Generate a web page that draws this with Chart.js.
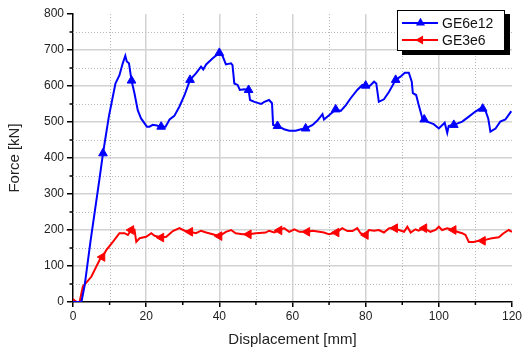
<!DOCTYPE html>
<html>
<head>
<meta charset="utf-8">
<script src="https://cdn.jsdelivr.net/npm/chart.js@4/dist/chart.umd.min.js"></script>
<style>
  html, body { margin: 0; padding: 0; background: #fff; }
  #wrap { width: 524px; height: 352px; }
</style>
</head>
<body>
<div id="wrap"><canvas id="c" width="524" height="352"></canvas></div>
<script>
// Force–displacement records of the two crush tests
const seriesNames = ['GE6e12', 'GE3e6'];

const dispBlue = [0, 2.3, 3.2, 4.8, 7.2, 8.2, 9.8, 11.6, 12.7, 13.6, 14.3, 14.7, 15.3, 16.0, 16.8, 17.7, 18.6,
  20.2, 20.9, 21.8, 22.9, 24.1, 25.3, 26.4, 27.7, 29.1, 30.5, 32.0, 33.6, 35.0, 35.6, 36.4, 38.2, 40.0, 40.9,
  41.8, 43.2, 43.6, 44.1, 45.0, 45.6, 46.8, 48.0, 48.4, 49.6, 51.4, 52.3, 53.6, 54.4, 54.7, 55.9, 57.7, 59.1,
  60.9, 62.3, 63.6, 65.5, 66.8, 68.2, 68.6, 70.0, 71.8, 73.2, 74.6, 75.9, 77.7, 79.1, 80.0, 80.9, 82.3, 82.9,
  83.6, 85.0, 86.4, 88.2, 89.5, 90.7, 91.8, 92.6, 92.9, 93.8, 94.5, 95.5, 96.0, 96.8, 98.6, 100.0, 101.6,
  102.3, 102.7, 104.1, 106.4, 108.2, 110.0, 111.4, 112.0, 112.7, 113.5, 114.1, 115.5, 116.8, 118.2, 119.8];
const forceBlue = [0, 0, 47, 170, 339, 413, 515, 607, 630, 663, 684, 668, 663, 615, 580, 533, 510,
  487, 487, 492, 490, 487, 487, 507, 517, 543, 575, 617, 635, 654, 646, 660, 677, 692, 683,
  660, 663, 658, 607, 603, 589, 591, 589, 561, 556, 550, 556, 561, 552, 492, 489, 480, 476,
  476, 480, 482, 492, 504, 522, 507, 519, 535, 531, 547, 566, 589, 603, 601, 598, 612, 607,
  556, 563, 584, 617, 626, 637, 637, 612, 580, 575, 547, 510, 507, 501, 494, 482, 498,
  470, 489, 492, 501, 515, 529, 538, 537, 533, 510, 473, 482, 501, 507, 530];

const dispRed = [0, 0.6, 1.0, 1.8, 2.7, 5.0, 7.3, 8.0, 9.1, 10.9, 12.7, 14.1, 15.0, 15.9, 16.8, 17.3, 18.2,
  20.0, 21.4, 22.3, 24.1, 25.5, 27.3, 29.1, 30.5, 32.0, 33.6, 35.0, 36.4, 38.2, 40.0, 41.8, 43.2, 44.5,
  46.4, 48.0, 50.0, 52.7, 53.6, 55.0, 56.4, 57.7, 59.1, 60.5, 61.9, 64.0, 65.5, 67.3, 68.6, 70.0, 72.0,
  73.6, 75.0, 76.4, 77.7, 78.6, 80.0, 80.9, 82.3, 83.6, 85.0, 86.4, 88.0, 89.1, 90.5, 91.4, 92.3, 93.6,
  94.5, 96.0, 97.7, 99.1, 100.0, 100.9, 102.3, 104.0, 105.0, 106.4, 107.3, 108.2, 109.5, 110.9, 112.0,
  113.2, 114.5, 116.4, 117.7, 119.1, 120.0];
const forceRed = [8, 3, 0, 0, 43, 70, 117, 125, 144, 167, 191, 191, 186, 200, 201, 167, 177,
  181, 191, 184, 179, 181, 197, 205, 198, 195, 191, 198, 193, 188, 183, 195, 200, 191,
  188, 188, 191, 193, 198, 193, 199, 205, 195, 202, 195, 195, 198, 195, 193, 188, 193,
  205, 197, 197, 205, 191, 186, 200, 198, 200, 193, 205, 205, 200, 195, 209, 193, 202,
  198, 205, 195, 200, 209, 200, 205, 200, 195, 191, 186, 167, 167, 170, 170,
  174, 177, 180, 191, 200, 195];

const xTickValues = [0, 20, 40, 60, 80, 100, 120];
const yTickValues = [0, 100, 200, 300, 400, 500, 600, 700, 800];
const xMinorTicks = [10, 30, 50, 70, 90, 110];
const yMinorTicks = [50, 150, 250, 350, 450, 550, 650, 750];
const markerSpacing = 8; // mm between symbols on each curve

const FONT = "'Liberation Sans', Arial, sans-serif";
const BLUE = '#0000ff';
const RED = '#ff0000';

function toPoints(xs, ys) { return xs.map((x, i) => ({ x: x, y: ys[i] })); }

// symbol radii: one symbol on the sample nearest to each multiple of the spacing
function markerRadii(xs, r) {
  const radii = xs.map(() => 0);
  for (let t = markerSpacing; t < xs[xs.length - 1]; t += markerSpacing) {
    let best = 0;
    xs.forEach((x, i) => { if (Math.abs(x - t) < Math.abs(xs[best] - t)) best = i; });
    radii[best] = r;
  }
  return radii;
}

function triangle(ctx, cx, cy, r, rotDeg) {
  let a = rotDeg * Math.PI / 180;
  ctx.beginPath();
  for (let k = 0; k < 3; k++) {
    ctx.lineTo(cx + Math.sin(a) * r, cy - Math.cos(a) * r);
    a += 2 * Math.PI / 3;
  }
  ctx.closePath();
  ctx.fill();
}

// dotted minor grid plus short minor tick marks
const minorGrid = {
  id: 'minorGrid',
  beforeDatasetsDraw(chart) {
    const { ctx, chartArea: a, scales: { x, y } } = chart;
    ctx.save();
    ctx.strokeStyle = '#b8b8b8';
    ctx.lineWidth = 1;
    ctx.setLineDash([1, 2]);
    xMinorTicks.forEach(v => {
      const px = Math.round(x.getPixelForValue(v)) + 0.5;
      ctx.beginPath(); ctx.moveTo(px, a.top); ctx.lineTo(px, a.bottom); ctx.stroke();
    });
    yMinorTicks.forEach(v => {
      const py = Math.round(y.getPixelForValue(v)) + 0.5;
      ctx.beginPath(); ctx.moveTo(a.left, py); ctx.lineTo(a.right, py); ctx.stroke();
    });
    ctx.setLineDash([]);
    ctx.strokeStyle = '#000';
    ctx.lineWidth = 1.5;
    xMinorTicks.forEach(v => {
      const px = x.getPixelForValue(v);
      ctx.beginPath(); ctx.moveTo(px, a.bottom); ctx.lineTo(px, a.bottom + 3); ctx.stroke();
    });
    yMinorTicks.forEach(v => {
      const py = y.getPixelForValue(v);
      ctx.beginPath(); ctx.moveTo(a.left, py); ctx.lineTo(a.left - 3.5, py); ctx.stroke();
    });
    ctx.restore();
  }
};

// framed legend with a drop shadow in the upper right corner
const boxLegend = {
  id: 'boxLegend',
  afterDraw(chart) {
    const { ctx, chartArea: a } = chart;
    const w = 108, h = 41;
    const bx = a.right - w - 7, by = a.top - 4;
    ctx.save();
    ctx.fillStyle = '#000';
    ctx.fillRect(bx + 5, by + 4, w, h);
    ctx.fillStyle = '#fff';
    ctx.fillRect(bx, by, w, h);
    ctx.strokeStyle = '#000';
    ctx.lineWidth = 1;
    ctx.strokeRect(bx + 0.5, by + 0.5, w - 1, h - 1);
    chart.data.datasets.forEach((ds, i) => {
      const ry = by + 13 + i * 17;
      ctx.strokeStyle = ds.borderColor;
      ctx.lineWidth = 1.8;
      ctx.beginPath(); ctx.moveTo(bx + 5, ry); ctx.lineTo(bx + 41, ry); ctx.stroke();
      ctx.fillStyle = ds.borderColor;
      triangle(ctx, bx + 23.5, ry, 5.2, ds.pointRotation);
      ctx.fillStyle = '#111';
      ctx.font = '14px ' + FONT;
      ctx.textBaseline = 'middle';
      ctx.textAlign = 'left';
      ctx.fillText(ds.label, bx + 45, ry + 1);
    });
    ctx.restore();
  }
};

const edgeless = (ends) => (c) => (c.tick && ends.includes(c.tick.value)) ? 'rgba(0,0,0,0)' : '#d2d2d2';

new Chart(document.getElementById('c'), {
  type: 'line',
  data: {
    datasets: [
      {
        label: seriesNames[0],
        data: toPoints(dispBlue, forceBlue),
        borderColor: BLUE,
        backgroundColor: BLUE,
        borderWidth: 2,
        tension: 0,
        pointStyle: 'triangle',
        pointRotation: 0,
        pointRadius: markerRadii(dispBlue, 5),
        pointBorderWidth: 1,
        pointBorderColor: BLUE,
        pointHoverRadius: 0
      },
      {
        label: seriesNames[1],
        data: toPoints(dispRed, forceRed),
        borderColor: RED,
        backgroundColor: RED,
        borderWidth: 2,
        tension: 0,
        pointStyle: 'triangle',
        pointRotation: -90,
        pointRadius: markerRadii(dispRed, 5),
        pointBorderWidth: 1,
        pointBorderColor: RED,
        pointHoverRadius: 0
      }
    ]
  },
  options: {
    responsive: false,
    animation: false,
    devicePixelRatio: 1,
    layout: { padding: { left: 0, top: 14, right: 11, bottom: 0 } },
    plugins: { legend: { display: false }, tooltip: { enabled: false } },
    scales: {
      x: {
        type: 'linear',
        min: 0, max: 120,
        afterBuildTicks: (s) => { s.ticks = xTickValues.map(v => ({ value: v })); },
        afterFit: (s) => { s.height = 50; },
        ticks: { font: { family: FONT, size: 12 }, color: '#222', padding: 2, maxRotation: 0 },
        grid: { color: edgeless([0, 120]), lineWidth: 1.5, tickLength: 5, tickColor: '#000', tickWidth: 1.5 },
        border: { color: '#000', width: 1.5 },
        title: { display: true, text: 'Displacement [mm]', font: { family: FONT, size: 15 }, color: '#222', padding: { top: 0, bottom: 3 } }
      },
      y: {
        type: 'linear',
        min: 0, max: 800,
        afterBuildTicks: (s) => { s.ticks = yTickValues.map(v => ({ value: v })); },
        afterFit: (s) => { s.width = 73; },
        ticks: { font: { family: FONT, size: 12 }, color: '#222', padding: 3 },
        grid: { color: edgeless([0, 800]), lineWidth: 1.5, tickLength: 6, tickColor: '#000', tickWidth: 1.5 },
        border: { color: '#000', width: 1.5 },
        title: { display: true, text: 'Force [kN]', font: { family: FONT, size: 15 }, color: '#222', padding: { top: 6, bottom: 0 } }
      }
    }
  },
  plugins: [minorGrid, boxLegend]
});
</script>
</body>
</html>
